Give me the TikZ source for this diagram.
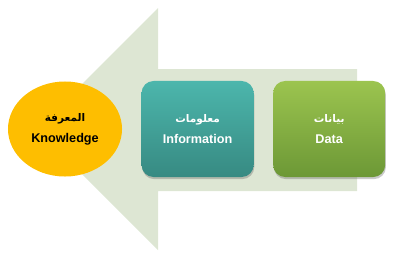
\documentclass[tikz,border=0pt]{standalone}
\usepackage{fontspec}
\setmainfont{Liberation Sans}
\newfontfamily\arabicfont[Script=Arabic]{DejaVu Sans}
\TeXXeTstate=1
\usetikzlibrary{positioning,shadows,shapes.geometric}
\definecolor{flow}{RGB}{221,230,211}
\definecolor{gold}{RGB}{254,190,0}
\definecolor{tealtop}{RGB}{76,182,172}
\definecolor{tealbot}{RGB}{55,138,130}
\definecolor{greentop}{RGB}{156,196,79}
\definecolor{greenbot}{RGB}{108,152,54}
\newcommand{\arlabel}[1]{{\arabicfont\bfseries\fontsize{7.5}{8}\selectfont\beginR #1\endR}}

\begin{document}
\begin{tikzpicture}[
    x=0.025cm, y=-0.025cm,
    node distance=0.475cm,
    level/.style={rectangle, rounded corners=0.3cm, minimum width=2.8cm, minimum height=2.4cm, align=center, font=\bfseries\fontsize{9}{15}\selectfont, text=white, drop shadow={shadow xshift=0.5pt, shadow yshift=-1.5pt, opacity=0.35, fill=black!60}},
    goal/.style={ellipse, fill=gold, minimum width=2.85cm, minimum height=2.375cm, inner sep=0pt, align=center, font=\bfseries\fontsize{9}{15}\selectfont, text=black}
]
\useasboundingbox (0,0) rectangle (400,265);

% Big arrow in the background
\draw[fill=flow, draw=none] (357,69) -- (158,69) -- (158,8) -- (37,129)
    -- (158,250) -- (158,191) -- (357,191) -- cycle;

% Knowledge, Information, Data (right to left)
\node[goal] (knowledge) at (65,129) {\arlabel{المعرفة}\\Knowledge};
\node[level, top color=tealtop, bottom color=tealbot, right=of knowledge] (information) {\arlabel{معلومات}\\Information};
\node[level, top color=greentop, bottom color=greenbot, right=of information] (data) {\arlabel{بيانات}\\Data};
\end{tikzpicture}
\end{document}
